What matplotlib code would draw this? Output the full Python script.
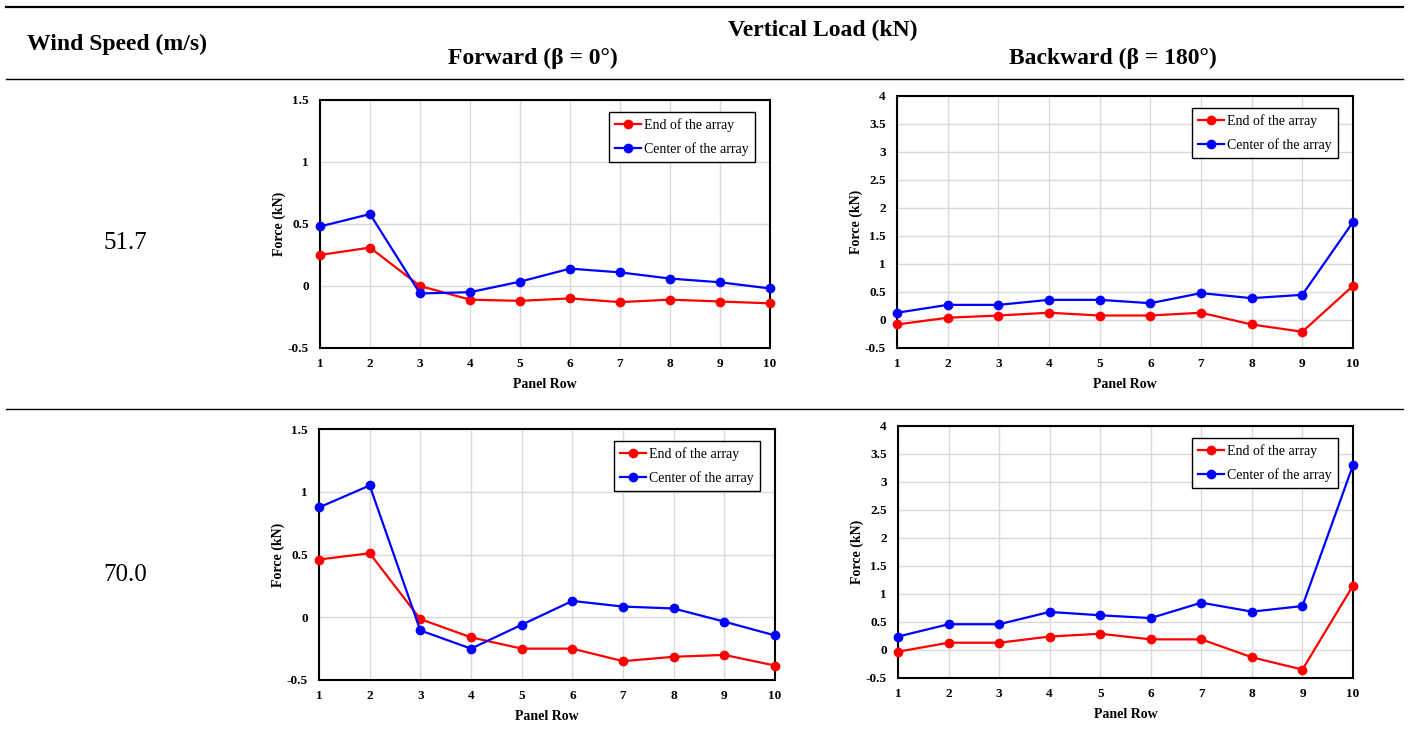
import matplotlib
matplotlib.use("Agg")
import matplotlib.pyplot as plt
from matplotlib.lines import Line2D

W, H = 1408, 738

# ---- data ----
panel_rows = [1, 2, 3, 4, 5, 6, 7, 8, 9, 10]
wind_speeds = ["51.7", "70.0"]
series_labels = ["End of the array", "Center of the array"]

fwd_51_end = [0.25, 0.31, 0.00, -0.11, -0.12, -0.10, -0.13, -0.11, -0.125, -0.14]
fwd_51_center = [0.48, 0.58, -0.06, -0.05, 0.035, 0.14, 0.11, 0.06, 0.03, -0.02]
bwd_51_end = [-0.08, 0.04, 0.08, 0.13, 0.08, 0.08, 0.13, -0.08, -0.21, 0.61]
bwd_51_center = [0.13, 0.27, 0.27, 0.36, 0.36, 0.30, 0.48, 0.39, 0.45, 1.75]
fwd_70_end = [0.46, 0.51, -0.015, -0.16, -0.25, -0.25, -0.35, -0.315, -0.30, -0.385]
fwd_70_center = [0.875, 1.05, -0.105, -0.25, -0.06, 0.13, 0.085, 0.07, -0.035, -0.145]
bwd_70_end = [-0.03, 0.13, 0.13, 0.24, 0.29, 0.19, 0.19, -0.13, -0.35, 1.15]
bwd_70_center = [0.24, 0.46, 0.46, 0.68, 0.62, 0.57, 0.845, 0.685, 0.785, 3.30]

fwd_yticks = [-0.5, 0, 0.5, 1, 1.5]
bwd_yticks = [-0.5, 0, 0.5, 1, 1.5, 2, 2.5, 3, 3.5, 4]

header_main = "Vertical Load (kN)"
header_left = "Wind Speed (m/s)"
header_fwd = "Forward (\u03b2 = 0\u00b0)"
header_bwd = "Backward (\u03b2 = 180\u00b0)"

RED = "#ff0000"
BLUE = "#0000ff"
SERIF = ["Liberation Serif", "DejaVu Serif"]

fig = plt.figure(figsize=(W / 100, H / 100), dpi=100)
fig.patch.set_facecolor("white")


def fx(x):
    return x / W


def fy(y):
    return 1 - y / H


def hline(y, x0, x1, lw):
    fig.add_artist(Line2D([fx(x0), fx(x1)], [fy(y), fy(y)],
                          transform=fig.transFigure, color="black", lw=lw))


# table rules
hline(7, 6, 1403, 1.6)
hline(79, 6, 1403, 1.0)
hline(409, 6, 1403, 1.0)

# table headers
head_kw = dict(family=SERIF, fontweight="bold", fontsize=17, va="center")
fig.text(fx(27), fy(44), header_left, ha="left", **head_kw)
fig.text(fx(823), fy(30), header_main, ha="center", **head_kw)
fig.text(fx(533), fy(58), header_fwd, ha="center", **head_kw)
fig.text(fx(1113), fy(58), header_bwd, ha="center", **head_kw)
fig.text(fx(125), fy(243), wind_speeds[0], family=SERIF, fontsize=18,
         ha="center", va="center")
fig.text(fx(125), fy(575), wind_speeds[1], family=SERIF, fontsize=18,
         ha="center", va="center")


def panel(box, end, center, yticks):
    x0, y0, x1, y1 = box
    w, h = x1 - x0, y1 - y0
    ax = fig.add_axes([fx(x0), fy(y1), w / W, h / H])
    ax.plot(panel_rows, end, color=RED, lw=1.6, marker="o", ms=6,
            label=series_labels[0], clip_on=False, zorder=3)
    ax.plot(panel_rows, center, color=BLUE, lw=1.6, marker="o", ms=6,
            label=series_labels[1], clip_on=False, zorder=3)
    ax.set_xlim(panel_rows[0], panel_rows[-1])
    ax.set_ylim(yticks[0], yticks[-1])
    ax.set_xticks(panel_rows)
    ax.set_xticklabels([str(v) for v in panel_rows])
    ax.set_yticks(yticks)
    ax.set_yticklabels(["%g" % v for v in yticks])
    ax.grid(True, color="#d9d9d9", lw=1.0, zorder=0)
    ax.set_axisbelow(True)
    for s in ax.spines.values():
        s.set_linewidth(1.5)
        s.set_color("black")
    ax.tick_params(axis="x", length=0, pad=7)
    ax.tick_params(axis="y", length=0, pad=8)
    for lab in ax.get_xticklabels() + ax.get_yticklabels():
        lab.set_family(SERIF)
        lab.set_fontweight("bold")
        lab.set_fontsize(9.5)
    ax.set_xlabel("Panel Row", family=SERIF, fontweight="bold", fontsize=10)
    ax.set_ylabel("Force (kN)", family=SERIF, fontweight="bold", fontsize=10)
    ax.xaxis.set_label_coords(0.5, -30 / h)
    ax.yaxis.set_label_coords(-34 / w, 0.5)
    leg = ax.legend(loc="upper right",
                    bbox_to_anchor=(1 - 15 / w, 1 - 12 / h),
                    borderaxespad=0, fancybox=False, framealpha=1,
                    edgecolor="black", handlelength=1.9, handletextpad=0.2,
                    labelspacing=0.7, borderpad=0.45,
                    prop={"family": SERIF, "size": 10})
    leg.get_frame().set_linewidth(1.0)
    return ax


panel((320, 100, 770, 348), fwd_51_end, fwd_51_center, fwd_yticks)
panel((897, 96, 1353, 348), bwd_51_end, bwd_51_center, bwd_yticks)
panel((319, 429, 775, 680), fwd_70_end, fwd_70_center, fwd_yticks)
panel((898, 426, 1353, 678), bwd_70_end, bwd_70_center, bwd_yticks)

fig.savefig("out.png", dpi=100, facecolor="white")
